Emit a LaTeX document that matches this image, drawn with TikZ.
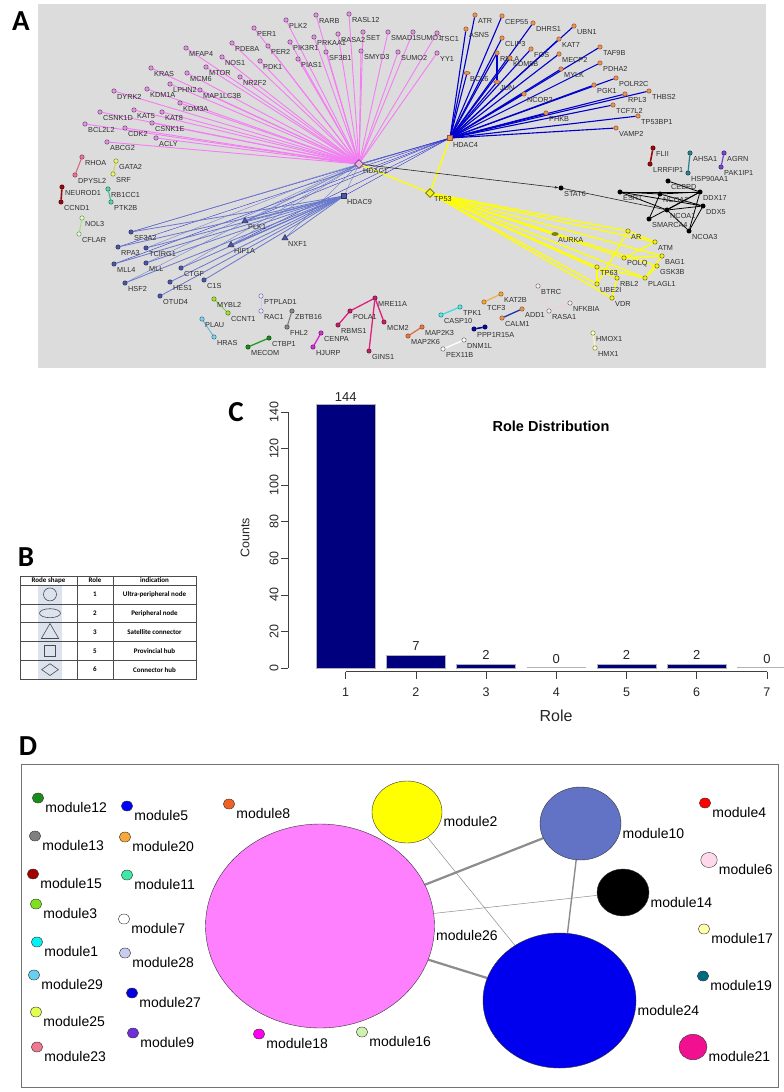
\documentclass[tikz,border=0pt]{standalone}
\usepackage{fontspec}
\setmainfont{Liberation Sans}
\newfontfamily\carl{Carlito}
\usetikzlibrary{shapes.geometric,arrows.meta}
\pgfdeclarelayer{bg}\pgfdeclarelayer{edges}
\pgfsetlayers{bg,edges,main}
\definecolor{agray}{HTML}{DCDCDC}
\definecolor{pkf}{HTML}{D89AD8}\definecolor{pkd}{HTML}{7D3A7D}\definecolor{pke}{HTML}{F47CF4}
\definecolor{orf}{HTML}{E8935A}\definecolor{ord}{HTML}{95552A}\definecolor{ore}{HTML}{0000CC}
\definecolor{slf}{HTML}{4B58A0}\definecolor{sld}{HTML}{2A3068}\definecolor{sle}{HTML}{6878CC}
\definecolor{ylf}{HTML}{F2EE22}\definecolor{yld}{HTML}{6E6E00}\definecolor{yle}{HTML}{FFFF00}
\definecolor{rhe}{HTML}{D8607C}\definecolor{rhf}{HTML}{E07A95}\definecolor{rhd}{HTML}{9A3050}
\definecolor{gae}{HTML}{C8D850}\definecolor{gaf}{HTML}{EEF27A}\definecolor{gad}{HTML}{7C8A10}
\definecolor{dre}{HTML}{9A0A0A}\definecolor{drf}{HTML}{9A0A0A}\definecolor{drd}{HTML}{500000}
\definecolor{rbe}{HTML}{30B888}\definecolor{rbf}{HTML}{58D8A8}\definecolor{rbd}{HTML}{1C7050}
\definecolor{noe}{HTML}{A8DC88}\definecolor{nof}{HTML}{EAF6DC}\definecolor{nod}{HTML}{5A9A3A}
\definecolor{mye}{HTML}{88CC22}\definecolor{myf}{HTML}{A0E040}\definecolor{myd}{HTML}{4E7A00}
\definecolor{pte}{HTML}{C8C8F0}\definecolor{ptf}{HTML}{E8E8FA}\definecolor{ptd}{HTML}{70709A}
\definecolor{ple}{HTML}{66BBDD}\definecolor{plf}{HTML}{8ACDEB}\definecolor{pld}{HTML}{2E7090}
\definecolor{cte}{HTML}{229A22}\definecolor{ctf}{HTML}{20881F}\definecolor{ctd}{HTML}{0E4A0E}
\definecolor{zbe}{HTML}{777777}\definecolor{zbf}{HTML}{8A8A8A}\definecolor{zbd}{HTML}{404040}
\definecolor{mre}{HTML}{E0207C}\definecolor{mrf}{HTML}{C0206A}\definecolor{mrd}{HTML}{70103C}
\definecolor{cne}{HTML}{D822D0}\definecolor{cnf}{HTML}{D030D0}\definecolor{cnd}{HTML}{701070}
\definecolor{cae}{HTML}{40DDDD}\definecolor{caf}{HTML}{5AE8E8}\definecolor{cad}{HTML}{1E7E7E}
\definecolor{tce}{HTML}{F2B055}\definecolor{tcf}{HTML}{F0A548}\definecolor{tcd}{HTML}{95600F}
\definecolor{cle}{HTML}{2233AA}
\definecolor{ppe}{HTML}{000099}\definecolor{ppf}{HTML}{0A0A9A}\definecolor{ppd}{HTML}{000050}
\definecolor{mae}{HTML}{E07040}\definecolor{maf}{HTML}{E27A4A}\definecolor{mad}{HTML}{94401C}
\definecolor{dnf}{HTML}{FFFFFF}\definecolor{dnd}{HTML}{666666}
\definecolor{bte}{HTML}{F2CCE2}\definecolor{btf}{HTML}{F8ECF2}\definecolor{btd}{HTML}{7A6A72}
\definecolor{hme}{HTML}{FFFFA8}\definecolor{hmf}{HTML}{FFFFCC}\definecolor{hmd}{HTML}{80803A}
\definecolor{ahe}{HTML}{2A7A8A}\definecolor{ahf}{HTML}{2F8090}\definecolor{ahd}{HTML}{13404A}
\definecolor{age}{HTML}{7744CC}\definecolor{agf}{HTML}{7A48D0}\definecolor{agd}{HTML}{3A1A70}
\definecolor{barnavy}{HTML}{00007F}
\definecolor{tshade}{HTML}{DCE3EE}
\definecolor{c12}{HTML}{1A8C1A}\definecolor{c13}{HTML}{7F7F7F}\definecolor{c15}{HTML}{A00000}
\definecolor{c3}{HTML}{80E020}\definecolor{c1}{HTML}{00F2F2}\definecolor{c29}{HTML}{66D0F0}
\definecolor{c25}{HTML}{E0FF50}\definecolor{c23}{HTML}{F07890}\definecolor{c5}{HTML}{0000FF}
\definecolor{c20}{HTML}{F8A838}\definecolor{c11}{HTML}{40E8A8}\definecolor{c7}{HTML}{FFFFFF}
\definecolor{c28}{HTML}{C8CCF0}\definecolor{c27}{HTML}{0000E0}\definecolor{c9}{HTML}{7030D8}
\definecolor{c8}{HTML}{F06020}\definecolor{c18}{HTML}{FF00EE}\definecolor{c16}{HTML}{D0F0B0}
\definecolor{c26}{HTML}{FF80FF}\definecolor{c2}{HTML}{FFFF00}\definecolor{c10}{HTML}{6272C4}
\definecolor{c14}{HTML}{000000}\definecolor{c24}{HTML}{0000EE}\definecolor{c4}{HTML}{FF0000}
\definecolor{c6}{HTML}{FFD8EC}\definecolor{c17}{HTML}{FFFFAA}\definecolor{c19}{HTML}{006B80}
\definecolor{c21}{HTML}{F01090}
\newcommand\gn[5]{\node[#4] (#1) at (#2,#3) {};\node[lab] (#1-t) at (#2+3,#3+6) {#5};}
\newcommand\mn[7]{\node[modc, fill=#6, minimum width=#4pt, minimum height=#5pt] (#1) at (#2,#3) {};\node[dlab] (#1-t) at (#2+#4/2+1.5,#3+9.5) {#7};}
\begin{document}
\begin{tikzpicture}[x=1pt,y=-1pt,
  lab/.style={font=\fontsize{7.3}{8}\selectfont, text=black!82, inner sep=0, anchor=west},
  mk/.style 2 args={circle, inner sep=0, minimum size=4.4pt, fill=#1, draw=#2, line width=0.5pt},
  pk/.style={mk={pkf}{pkd}}, orn/.style={mk={orf}{ord}}, sl/.style={mk={slf}{sld}},
  yl/.style={mk={ylf}{yld}}, bk/.style={mk={black}{black}},
  tri/.style={regular polygon, regular polygon sides=3, inner sep=0, minimum size=7pt, fill=slf, draw=sld, line width=0.5pt},
  ell/.style 2 args={ellipse, inner sep=0, minimum width=6.5pt, minimum height=3pt, fill=#1, draw=#2, line width=0.5pt},
  pkedge/.style={draw=pke, line width=0.9pt},
  oredge/.style={draw=ore, line width=1.1pt},
  sledge/.style={draw=sle, line width=0.8pt},
  thinb/.style={draw=sle, line width=0.35pt},
  ylw/.style={draw=yle, line width=1.3pt},
  pe/.style={draw=#1, line width=1pt},
  plab/.style={font=\carl\bfseries\fontsize{29}{30}\selectfont, inner sep=0},
  tick/.style={font=\fontsize{12.5}{13}\selectfont, text=black!85, inner sep=0},
  tb/.style={font=\carl\bfseries\fontsize{7}{8}\selectfont, inner sep=0},
  tshape/.style={draw=black!70, line width=0.6pt, inner sep=0},
  modc/.style={ellipse, draw=black!80, line width=0.4pt, inner sep=0},
  dlab/.style={font=\fontsize{14}{15}\selectfont, inner sep=0, anchor=west},
  dedge/.style={draw=black!45}
]
\useasboundingbox (0,0) rectangle (784,1092);
\begin{pgfonlayer}{bg}
\fill[white] (0,0) rectangle (784,1092);
\fill[agray] (38,4) rectangle (766,368);
\end{pgfonlayer}
% ---------------- Panel A ----------------
\node[plab] (labA) at (21,21) {A};
% hubs
\node[diamond, inner sep=0, minimum width=9pt, minimum height=9pt, fill=pkf!70!white, draw=pkd, line width=0.6pt] (HDAC1) at (359,164) {};
\node[lab] (HDAC1-t) at (363,171) {HDAC1};
\node[rectangle, inner sep=0, minimum size=5.5pt, fill=orf, draw=ord, line width=0.6pt] (HDAC4) at (450,138) {};
\node[lab] (HDAC4-t) at (453,145) {HDAC4};
\node[rectangle, inner sep=0, minimum size=5.5pt, fill=slf, draw=sld, line width=0.6pt] (HDAC9) at (344,196) {};
\node[lab] (HDAC9-t) at (347,202) {HDAC9};
\node[diamond, inner sep=0, minimum width=9pt, minimum height=9pt, fill=ylf, draw=yld, line width=0.6pt] (TP53) at (430,193) {};
\node[lab] (TP53-t) at (434,199) {TP53};
% pink module
\gn{PER1}{254}{28}{pk}{PER1}
\gn{PDE8A}{232}{43}{pk}{PDE8A}
\gn{PER2}{268}{46}{pk}{PER2}
\gn{MFAP4}{186}{48}{pk}{MFAP4}
\gn{NOS1}{222}{57}{pk}{NOS1}
\gn{PDK1}{260}{61}{pk}{PDK1}
\gn{KRAS}{151}{68}{pk}{KRAS}
\gn{MTOR}{206}{67}{pk}{MTOR}
\gn{MCM6}{187}{73}{pk}{MCM6}
\gn{NR2F2}{240}{77}{pk}{NR2F2}
\gn{LPHN2}{170}{84}{pk}{LPHN2}
\gn{KDM1A}{147}{89}{pk}{KDM1A}
\gn{MAP1LC3B}{200}{90}{pk}{MAP1LC3B}
\gn{DYRK2}{114}{91}{pk}{DYRK2}
\gn{KDM3A}{180}{103}{pk}{KDM3A}
\gn{CSNK1D}{100}{112}{pk}{CSNK1D}
\gn{KAT5}{134}{110}{pk}{KAT5}
\gn{KAT8}{162}{112}{pk}{KAT8}
\gn{CSNK1E}{152}{123}{pk}{CSNK1E}
\gn{BCL2L2}{85}{124}{pk}{BCL2L2}
\gn{CDK2}{125}{128}{pk}{CDK2}
\gn{ACLY}{156}{138}{pk}{ACLY}
\gn{ABCG2}{107}{142}{pk}{ABCG2}
\gn{PLK2}{286}{20}{pk}{PLK2}
\gn{RARB}{316}{15}{pk}{RARB}
\gn{RASL12}{349}{14}{pk}{RASL12}
\gn{PIK3R1}{290}{42}{pk}{PIK3R1}
\gn{PRKAA1}{314}{37}{pk}{PRKAA1}
\gn{RASA2}{338}{34}{pk}{RASA2}
\gn{SET}{363}{32}{pk}{SET}
\gn{SMAD1}{388}{32}{pk}{SMAD1}
\gn{SUMO1}{413}{32}{pk}{SUMO1}
\gn{TSC1}{437}{33}{pk}{TSC1}
\gn{SF3B1}{326}{52}{pk}{SF3B1}
\gn{SMYD3}{361}{51}{pk}{SMYD3}
\gn{SUMO2}{398}{52}{pk}{SUMO2}
\gn{YY1}{437}{53}{pk}{YY1}
\gn{PIAS1}{298}{59}{pk}{PIAS1}
% orange module
\gn{ATR}{475}{15}{orn}{ATR}
\gn{CEP55}{502}{16}{orn}{CEP55}
\gn{ASNS}{466}{29}{orn}{ASNS}
\gn{CLIP3}{502}{38}{orn}{CLIP3}
\gn{RELA}{497}{53}{orn}{RELA}
\gn{BCL6}{467}{73}{ell={orf}{ord}}{BCL6}
\gn{JUN}{497}{82}{ell={orf}{ord}}{JUN}
\gn{DHRS1}{533}{23}{orn}{DHRS1}
\gn{UBN1}{574}{26}{orn}{UBN1}
\gn{KAT7}{559}{39}{orn}{KAT7}
\gn{FOS}{531}{49}{orn}{FOS}
\gn{TAF9B}{600}{47}{orn}{TAF9B}
\gn{MECP2}{559}{54}{orn}{MECP2}
\gn{KDM5B}{510}{58}{orn}{KDM5B}
\gn{PDHA2}{600}{63}{orn}{PDHA2}
\gn{MYLK}{561}{69}{orn}{MYLK}
\gn{POLR2C}{616}{78}{orn}{POLR2C}
\gn{PGK1}{594}{85}{orn}{PGK1}
\gn{RPL3}{625}{94}{orn}{RPL3}
\gn{THBS2}{649}{91}{orn}{THBS2}
\gn{TCF7L2}{613}{105}{orn}{TCF7L2}
\gn{TP53BP1}{638}{116}{orn}{TP53BP1}
\gn{PHKB}{546}{113}{orn}{PHKB}
\gn{NCOR2}{524}{94}{orn}{NCOR2}
\gn{VAMP2}{616}{128}{orn}{VAMP2}
% slate module
\gn{PLK1}{245}{221}{tri}{PLK1}
\gn{HIF1A}{231}{245}{tri}{HIF1A}
\gn{NXF1}{285}{238}{tri}{NXF1}
\gn{SF3A2}{131}{232}{sl}{SF3A2}
\gn{RPA3}{118}{247}{sl}{RPA3}
\gn{TCIRG1}{146}{248}{sl}{TCIRG1}
\gn{MLL4}{114}{264}{sl}{MLL4}
\gn{MLL}{146}{263}{sl}{MLL}
\gn{CTGF}{181}{268}{sl}{CTGF}
\gn{HSF2}{125}{283}{sl}{HSF2}
\gn{HES1}{170}{282}{sl}{HES1}
\gn{C1S}{204}{280}{sl}{C1S}
\gn{OTUD4}{160}{296}{sl}{OTUD4}
% yellow module
\gn{AR}{628}{231}{yl}{AR}
\gn{ATM}{655}{242}{yl}{ATM}
\gn{BAG1}{662}{256}{yl}{BAG1}
\gn{POLQ}{624}{258}{yl}{POLQ}
\gn{GSK3B}{657}{266}{yl}{GSK3B}
\gn{TP63}{597}{267}{yl}{TP63}
\gn{RBL2}{617}{278}{yl}{RBL2}
\gn{PLAGL1}{645}{278}{yl}{PLAGL1}
\gn{UBE2I}{597}{284}{yl}{UBE2I}
\gn{VDR}{612}{298}{yl}{VDR}
\gn{AURKA}{555}{234}{ell={ylf!55!black}{yld}}{AURKA}
% black module
\gn{STAT6}{561}{188}{bk}{STAT6}
\gn{CEBPD}{668}{181}{bk}{CEBPD}
\gn{ESR1}{620}{192}{bk}{ESR1}
\gn{NCOA2}{660}{194}{bk}{NCOA2}
\gn{DDX17}{700}{192}{bk}{DDX17}
\gn{DDX5}{703}{206}{bk}{DDX5}
\gn{NCOA1}{667}{210}{bk}{NCOA1}
\gn{SMARCA4}{649}{219}{bk}{SMARCA4}
\gn{NCOA3}{689}{231}{bk}{NCOA3}
% small modules
\gn{RHOA}{82}{157}{mk={rhf}{rhd}}{RHOA}
\gn{DPYSL2}{75}{175}{mk={rhf}{rhd}}{DPYSL2}
\gn{GATA2}{116}{161}{mk={gaf}{gad}}{GATA2}
\gn{SRF}{113}{174}{mk={gaf}{gad}}{SRF}
\gn{NEUROD1}{62}{187}{mk={drf}{drd}}{NEUROD1}
\gn{CCND1}{61}{202}{mk={drf}{drd}}{CCND1}
\gn{RB1CC1}{108}{189}{mk={rbf}{rbd}}{RB1CC1}
\gn{PTK2B}{111}{202}{mk={rbf}{rbd}}{PTK2B}
\gn{NOL3}{82}{218}{mk={nof}{nod}}{NOL3}
\gn{CFLAR}{79}{234}{mk={nof}{nod}}{CFLAR}
\gn{MYBL2}{214}{299}{mk={myf}{myd}}{MYBL2}
\gn{CCNT1}{228}{313}{mk={myf}{myd}}{CCNT1}
\gn{PTPLAD1}{261}{296}{mk={ptf}{ptd}}{PTPLAD1}
\gn{RAC1}{261}{311}{mk={ptf}{ptd}}{RAC1}
\gn{PLAU}{202}{319}{mk={plf}{pld}}{PLAU}
\gn{HRAS}{214}{337}{mk={plf}{pld}}{HRAS}
\gn{CTBP1}{269}{338}{mk={ctf}{ctd}}{CTBP1}
\gn{MECOM}{248}{347}{mk={ctf}{ctd}}{MECOM}
\gn{ZBTB16}{292}{311}{mk={zbf}{zbd}}{ZBTB16}
\gn{FHL2}{287}{327}{mk={zbf}{zbd}}{FHL2}
\gn{MRE11A}{375}{298}{mk={mrf}{mrd}}{MRE11A}
\gn{POLA1}{350}{311}{mk={mrf}{mrd}}{POLA1}
\gn{RBMS1}{338}{325}{mk={mrf}{mrd}}{RBMS1}
\gn{MCM2}{384}{322}{mk={mrf}{mrd}}{MCM2}
\gn{GINS1}{369}{351}{mk={mrf}{mrd}}{GINS1}
\gn{CENPA}{321}{333}{mk={cnf}{cnd}}{CENPA}
\gn{HJURP}{313}{347}{mk={cnf}{cnd}}{HJURP}
\gn{TPK1}{460}{307}{mk={caf}{cad}}{TPK1}
\gn{CASP10}{441}{315}{mk={caf}{cad}}{CASP10}
\gn{TCF3}{484}{302}{mk={tcf}{tcd}}{TCF3}
\gn{KAT2B}{501}{294}{mk={tcf}{tcd}}{KAT2B}
\gn{CALM1}{502}{318}{orn}{CALM1}
\gn{ADD1}{522}{309}{orn}{ADD1}
\gn{PPP1R15A}{474}{329}{mk={ppf}{ppd}}{PPP1R15A}
\node[mk={ppf}{ppd}] (PPPb) at (485,327) {};
\gn{MAP2K3}{422}{327}{mk={maf}{mad}}{MAP2K3}
\gn{MAP2K6}{408}{336}{mk={maf}{mad}}{MAP2K6}
\gn{DNM1L}{464}{340}{mk={dnf}{dnd}}{DNM1L}
\gn{PEX11B}{443}{349}{mk={dnf}{dnd}}{PEX11B}
\gn{BTRC}{538}{286}{mk={btf}{btd}}{BTRC}
\gn{RASA1}{549}{311}{mk={btf}{btd}}{RASA1}
\gn{NFKBIA}{570}{303}{mk={btf}{btd}}{NFKBIA}
\gn{HMOX1}{593}{333}{mk={hmf}{hmd}}{HMOX1}
\gn{HMX1}{595}{348}{mk={hmf}{hmd}}{HMX1}
\gn{FLII}{653}{148}{mk={drf}{drd}}{FLII}
\gn{LRRFIP1}{650}{164}{mk={drf}{drd}}{LRRFIP1}
\gn{AHSA1}{690}{153}{mk={ahf}{ahd}}{AHSA1}
\gn{HSP90AA1}{688}{173}{mk={ahf}{ahd}}{HSP90AA1}
\gn{AGRN}{724}{153}{mk={agf}{agd}}{AGRN}
\gn{PAK1IP1}{721}{167}{mk={agf}{agd}}{PAK1IP1}
\begin{pgfonlayer}{edges}
\foreach \n in {PER1,PDE8A,PER2,MFAP4,NOS1,PDK1,KRAS,MTOR,MCM6,NR2F2,LPHN2,KDM1A,MAP1LC3B,DYRK2,KDM3A,CSNK1D,KAT5,KAT8,CSNK1E,BCL2L2,CDK2,ACLY,ABCG2,PLK2,RARB,RASL12,PIK3R1,PRKAA1,RASA2,SET,SMAD1,SUMO1,TSC1,SF3B1,SMYD3,SUMO2,YY1,PIAS1}
  \draw[pkedge] (HDAC1) -- (\n);
\foreach \n in {ATR,CEP55,ASNS,CLIP3,RELA,BCL6,JUN,DHRS1,UBN1,KAT7,FOS,TAF9B,MECP2,KDM5B,PDHA2,MYLK,POLR2C,PGK1,RPL3,THBS2,TCF7L2,TP53BP1,PHKB,NCOR2,VAMP2}
  \draw[oredge] (HDAC4) -- (\n);
\draw[oredge] (RELA) -- (JUN);
\foreach \n in {HDAC1,HDAC9,PLK1,HIF1A,SF3A2,RPA3,MLL4}
  \draw[draw=ore!70!sle, line width=0.35pt] (HDAC4) -- (\n);
\foreach \n in {PLK1,HIF1A,SF3A2,RPA3,TCIRG1,MLL4,MLL,CTGF,HSF2,HES1,C1S,OTUD4,NXF1}
  \draw[sledge] (HDAC9) -- (\n);
\foreach \n in {HDAC9,PLK1,HIF1A,SF3A2,TCIRG1,MLL,CTGF,HSF2,NXF1}
  \draw[thinb] (HDAC1) -- (\n);
\foreach \n in {AR,ATM,BAG1,POLQ,GSK3B,TP63,RBL2,PLAGL1,UBE2I,VDR,AURKA,HDAC4,HDAC1}
  \draw[ylw] (TP53) -- (\n);
\draw[ylw] (AR) -- (ATM); \draw[ylw] (AR) -- (UBE2I); \draw[ylw] (ATM) -- (POLQ);
\draw[ylw] (POLQ) -- (BAG1); \draw[ylw] (BAG1) -- (PLAGL1); \draw[ylw] (GSK3B) -- (PLAGL1);
\draw[ylw] (TP63) -- (PLAGL1); \draw[ylw] (TP63) -- (UBE2I); \draw[ylw] (RBL2) -- (VDR);
\draw[black!85, line width=0.6pt, -{Latex[length=3.5pt,width=2.5pt]}] (HDAC1) -- (STAT6);
\draw[black!85, line width=0.6pt] (STAT6) -- (NCOA1);
\foreach \a/\b in {ESR1/DDX17,ESR1/NCOA2,NCOA2/DDX17,CEBPD/DDX17,ESR1/NCOA1,NCOA1/DDX17,NCOA1/DDX5,NCOA2/DDX5,SMARCA4/NCOA2,SMARCA4/DDX17,DDX5/NCOA3,DDX17/NCOA3,NCOA1/NCOA3,ESR1/DDX5}
  \draw[black, line width=0.8pt] (\a) -- (\b);
\draw[pe=rhe] (RHOA) -- (DPYSL2);
\draw[pe=gae] (GATA2) -- (SRF);
\draw[pe=dre, line width=1.6pt] (NEUROD1) -- (CCND1);
\draw[pe=rbe] (RB1CC1) -- (PTK2B);
\draw[pe=noe] (NOL3) -- (CFLAR);
\draw[pe=mye] (MYBL2) -- (CCNT1);
\draw[pe=pte] (PTPLAD1) -- (RAC1);
\draw[pe=ple] (PLAU) -- (HRAS);
\draw[pe=cte, line width=1.3pt] (CTBP1) -- (MECOM);
\draw[pe=zbe] (ZBTB16) -- (FHL2);
\draw[pe=mre, line width=1.3pt] (MRE11A) -- (POLA1);
\draw[pe=mre, line width=1.3pt] (POLA1) -- (RBMS1);
\draw[pe=mre, line width=1.3pt] (MRE11A) -- (MCM2);
\draw[pe=mre, line width=1.3pt] (MRE11A) -- (GINS1);
\draw[pe=cne, line width=1.3pt] (CENPA) -- (HJURP);
\draw[pe=cae, line width=1.3pt] (TPK1) -- (CASP10);
\draw[pe=tce, line width=1.3pt] (TCF3) -- (KAT2B);
\draw[pe=cle, line width=1.3pt] (CALM1) -- (ADD1);
\draw[pe=ppe, line width=1.5pt] (PPP1R15A) -- (PPPb);
\draw[pe=mae, line width=1.3pt] (MAP2K3) -- (MAP2K6);
\draw[pe=white, line width=1.3pt] (DNM1L) -- (PEX11B);
\draw[pe=bte] (BTRC) -- (RASA1);
\draw[pe=bte] (RASA1) -- (NFKBIA);
\draw[pe=hme] (HMOX1) -- (HMX1);
\draw[pe=dre, line width=1.6pt] (FLII) -- (LRRFIP1);
\draw[pe=ahe, line width=1.2pt] (AHSA1) -- (HSP90AA1);
\draw[pe=age, line width=1.2pt] (AGRN) -- (PAK1IP1);
\end{pgfonlayer}
% ---------------- Panel B ----------------
\node[plab] (labB) at (26,557) {B};
\fill[tshade] (38,585.5) rectangle (62,678.5);
\draw[black!70, line width=0.45pt] (20,576) rectangle (196,679);
\foreach \yy in {585,603.8,622.6,641.4,660.2} \draw[black!70, line width=0.45pt] (20,\yy) -- (196,\yy);
\draw[black!70, line width=0.45pt] (77,576) -- (77,679);
\draw[black!70, line width=0.45pt] (113,576) -- (113,679);
\node[tb] (th1) at (48.5,580.5) {Rode shape};
\node[tb] (th2) at (95,580.5) {Role};
\node[tb] (th3) at (154.5,580.5) {indication};
\node[tshape, circle, minimum size=13pt] (sh1) at (50,594.4) {};
\node[tshape, ellipse, minimum width=21pt, minimum height=9pt] (sh2) at (50,613.2) {};
\node[tshape, regular polygon, regular polygon sides=3, minimum size=20pt] (sh3) at (50,633.5) {};
\node[tshape, rectangle, minimum size=11pt] (sh4) at (50,650.8) {};
\node[tshape, diamond, minimum width=17pt, minimum height=12pt] (sh5) at (50,669.6) {};
\node[tb] (r1a) at (95,594.4) {1};
\node[tb] (r2a) at (95,613.2) {2};
\node[tb] (r3a) at (95,632) {3};
\node[tb] (r4a) at (95,650.8) {5};
\node[tb] (r5a) at (95,669.6) {6};
\node[tb] (r1b) at (154.5,594.4) {Ultra-peripheral node};
\node[tb] (r2b) at (154.5,613.2) {Peripheral node};
\node[tb] (r3b) at (154.5,632) {Satellite connector};
\node[tb] (r4b) at (154.5,650.8) {Provincial hub};
\node[tb] (r5b) at (154.5,669.6) {Connector hub};
% ---------------- Panel C ----------------
\node[plab] (labC) at (236,412) {C};
\draw[black!75, line width=0.6pt] (288,668) -- (288,411.9);
\foreach \v in {0,20,...,140} {
  \draw[black!75, line width=0.6pt] (288,668-1.829*\v) -- (281,668-1.829*\v);
  \node[tick, rotate=90] (yt\v) at (274,668-1.829*\v) {\v};
}
\node[tick, rotate=90] (counts) at (245,538) {Counts};
\foreach \i/\h in {1/144,2/7,3/2,5/2,6/2} {
  \fill[barnavy] (316.2+70.2*\i-70.2,668) rectangle (375.2+70.2*\i-70.2,668-1.829*\h);
  \draw[black!30, line width=0.5pt] (316.2+70.2*\i-70.2,668) rectangle (375.2+70.2*\i-70.2,668-1.829*\h);
}
\draw[black!30, line width=1.2pt] (526.8,667.6) -- (585.8,667.6);
\draw[black!30, line width=1.2pt] (737.4,667.6) -- (784,667.6);
\foreach \i/\h/\yy in {1/144/397,2/7/646,3/2/655,4/0/659,5/2/655,6/2/655,7/0/659}
  \node[tick, font=\fontsize{13}{14}\selectfont] (bv\i) at (345.7+70.2*\i-70.2,\yy) {\h};
\draw[black!75, line width=0.6pt] (345.7,671.5) -- (766.9,671.5);
\foreach \i in {1,...,7} {
  \draw[black!75, line width=0.6pt] (345.7+70.2*\i-70.2,671.5) -- (345.7+70.2*\i-70.2,678.5);
  \node[tick] (xt\i) at (345.7+70.2*\i-70.2,692) {\i};
}
\node[font=\bfseries\fontsize{14.5}{15}\selectfont, inner sep=0] (title) at (551,426) {Role Distribution};
\node[font=\fontsize{16}{17}\selectfont, inner sep=0, text=black!85] (role) at (556,716) {Role};
% ---------------- Panel D ----------------
\node[plab] (labD) at (28,746) {D};
\draw[black!55, line width=1pt] (21,764) rectangle (778,1087);
\mn{m12}{38}{798}{11.5}{10}{c12}{module12}
\mn{m13}{35}{836}{11.5}{10}{c13}{module13}
\mn{m15}{33}{874}{11.5}{10}{c15}{module15}
\mn{m3}{36}{904}{11.5}{10}{c3}{module3}
\mn{m1}{37}{942}{11.5}{10}{c1}{module1}
\mn{m29}{34}{975}{11.5}{10}{c29}{module29}
\mn{m25}{36}{1012}{11.5}{10}{c25}{module25}
\mn{m23}{37}{1047}{11.5}{10}{c23}{module23}
\mn{m5}{127}{806}{11.5}{10}{c5}{module5}
\mn{m20}{125}{837}{11.5}{10}{c20}{module20}
\mn{m11}{127}{875}{11.5}{10}{c11}{module11}
\mn{m7}{124}{919}{11.5}{10}{c7}{module7}
\mn{m28}{125}{953}{11.5}{10}{c28}{module28}
\mn{m27}{132}{993}{11.5}{10}{c27}{module27}
\mn{m9}{133}{1033}{11.5}{10}{c9}{module9}
\mn{m8}{229}{804}{11.5}{10}{c8}{module8}
\mn{m18}{259}{1034}{11.5}{10}{c18}{module18}
\mn{m16}{362}{1032}{11.5}{10}{c16}{module16}
\mn{m26}{320}{926}{229}{204}{c26}{module26}
\mn{m2}{407}{812}{70}{62}{c2}{module2}
\mn{m10}{580.5}{823.5}{81}{73}{c10}{module10}
\mn{m14}{623}{892.5}{52}{47}{c14}{module14}
\mn{m24}{559.5}{1000.5}{153}{135}{c24}{module24}
\mn{m4}{705}{803}{11.5}{10}{c4}{module4}
\mn{m6}{709}{860}{16.5}{15}{c6}{module6}
\mn{m17}{704}{929}{11.5}{10}{c17}{module17}
\mn{m19}{703}{976}{11.5}{10}{c19}{module19}
\mn{m21}{693}{1047}{28}{25.5}{c21}{module21}
\begin{pgfonlayer}{edges}
\draw[dedge, line width=2.2pt] (m26) -- (m10);
\draw[dedge, line width=2.2pt] (m26) -- (m24);
\draw[dedge, line width=1.4pt] (m10) -- (m24);
\draw[dedge, line width=0.5pt] (m26) -- (m14);
\draw[dedge, line width=0.5pt] (m2) -- (m24);
\end{pgfonlayer}
\end{tikzpicture}
\end{document}
